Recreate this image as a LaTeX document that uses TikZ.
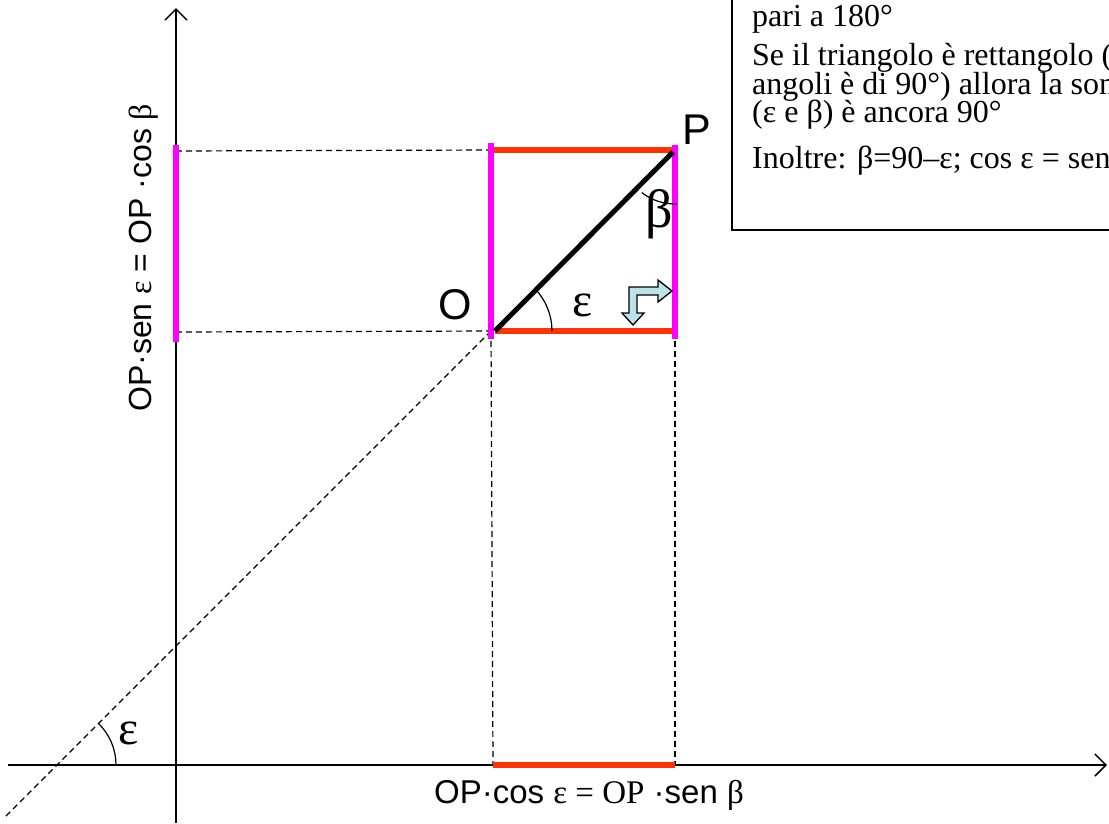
\documentclass[tikz,border=0pt]{standalone}
\usepackage{fontspec}
\setmainfont{Liberation Serif}
\setsansfont{Liberation Sans}
\usetikzlibrary{arrows.meta}
\definecolor{redline}{HTML}{FF3300}
\definecolor{magline}{HTML}{FF00FF}
\definecolor{arrowfill}{HTML}{BDE3EA}
\begin{document}
\begin{tikzpicture}[x=1pt,y=-1pt,
  axis/.style={line width=1.5pt,-{Straight Barb[length=11pt,width=22pt,line width=1.5pt]}},
  guide/.style={line width=1.2pt,dash pattern=on 6pt off 4pt},
  redseg/.style={line width=5.5pt,draw=redline},
  magseg/.style={line width=5.5pt,draw=magline},
  arcline/.style={line width=1.2pt},
  boxtext/.style={anchor=base west,inner sep=0pt,font=\rmfamily\fontsize{32}{32}\selectfont},
  biglabel/.style={inner sep=0pt,font=\sffamily\fontsize{43}{43}\selectfont},
  greeklabel/.style={inner sep=0pt,font=\rmfamily\fontsize{48}{48}\selectfont},
  axislabel/.style={inner sep=0pt,font=\sffamily\fontsize{33}{33}\selectfont}]
\useasboundingbox (0,0) rectangle (1109,823);
\clip (0,0) rectangle (1109,823);
% key points
\coordinate (O) at (491,331);
\coordinate (P) at (675,150);
\coordinate (R) at (491,150);
\coordinate (Q) at (675,331);
\coordinate (Ostart) at (495,331);
\coordinate (Pend) at (673,152);
\coordinate (yb) at (176,823);
\coordinate (yt) at (176,8);
\coordinate (xl) at (8,765);
\coordinate (xr) at (1107,765);
\coordinate (E) at (58,765);
\coordinate (D) at (5,817);
\coordinate (Ly1) at (176,151);
\coordinate (Ly2) at (176,332);
\coordinate (Ox) at (493,765);
\coordinate (Qx) at (675,765);
% axes
\draw[axis] (yb) -- (yt);
\draw[axis] (xl) -- (xr);
% dashed guides
\draw[guide] (O) -- (D);
\draw[guide] (Ly1) -- (R);
\draw[guide] (Ly2) -- (O);
\draw[guide] (O) -- (Ox);
\draw[guide] (Q) -- (Qx);
% red segments
\draw[redseg] (R) -- (P);
\draw[redseg] (Ostart) -- (Q);
\draw[redseg] (Ox) -- (Qx);
% magenta segments
\draw[magseg] (176,145) -- (176,342);
\draw[magseg] (491,143) -- (491,339);
\draw[magseg] (675,145) -- (675,339);
% OP segment
\draw[line width=5pt] (Ostart) -- (Pend);
% angle arcs
\draw[arcline] ([shift={(0:61)}]O) arc[start angle=0,end angle=-44,radius=61];
\draw[arcline] ([shift={(0:58)}]E) arc[start angle=0,end angle=-46,radius=58];
\draw[arcline] ([shift={(128:54)}]P) arc[start angle=128,end angle=88,radius=54];
% bent arrow icon
\draw[fill=arrowfill,line width=1.3pt,line join=miter]
  (629,313) -- (629,287) -- (658,287) -- (658,280) -- (672,291) -- (658,302)
  -- (658,295) -- (637,295) -- (637,313) -- (644,313) -- (633,325) -- (622,313) -- cycle;
% labels
\node[biglabel] (lO) at (455,305) {O};
\node[biglabel] (lP) at (697,130) {P};
\node[greeklabel] (leps) at (583,305) {ε};
\node[greeklabel,font=\rmfamily\fontsize{54}{54}\selectfont] (lbeta) at (659,214) {β};
\node[greeklabel] (leps2) at (129,733) {ε};
\node[axislabel,anchor=base west] (lx) at (434,803)
  {OP·cos {\rmfamily ε = OP} ·sen {\rmfamily β}};
\node[axislabel,anchor=base west,rotate=90,font=\sffamily\fontsize{32}{32}\selectfont] (ly) at (151,412)
  {OP·sen {\rmfamily ε} = OP ·cos {\rmfamily β}};
% text box
\draw[line width=1.5pt] (732,-10) rectangle (1130,230);
\node[boxtext] (t1) at (752,26) {pari a 180°};
\node[boxtext] (t2) at (752,65) {Se il triangolo è rettangolo (uno};
\node[boxtext] (t3) at (752,94) {angoli è di 90°) allora la somma};
\node[boxtext] (t4) at (752,122) {(ε e β) è ancora 90°};
\node[boxtext] (t5) at (752,168) {Inoltre: β=90–ε; cos ε = sen β};
\end{tikzpicture}
\end{document}
